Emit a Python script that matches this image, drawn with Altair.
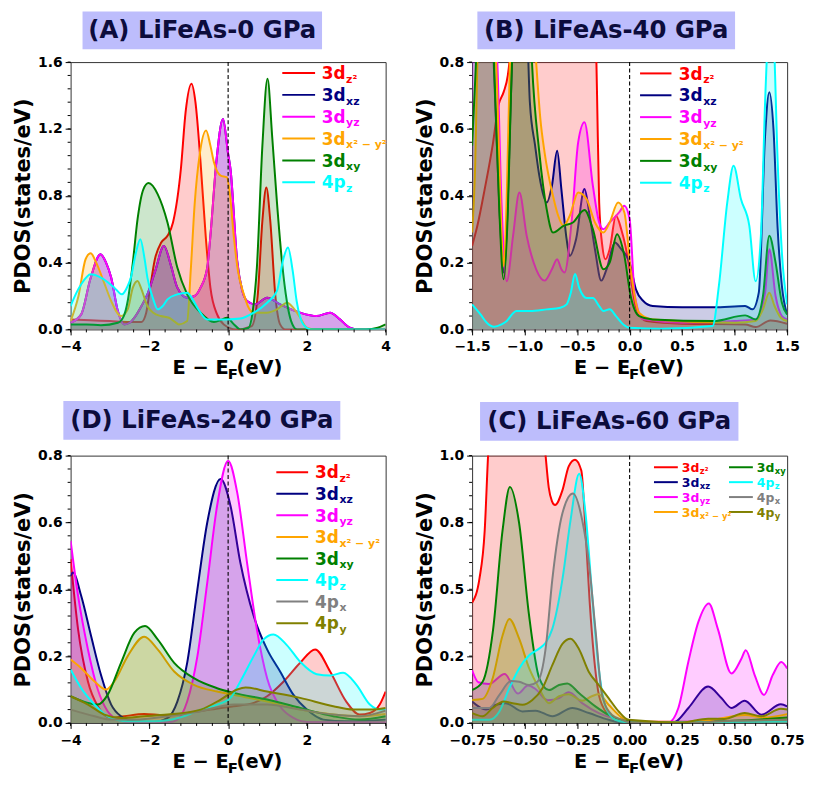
import altair as alt
import pandas as pd

# ---------------- data (E - E_F in eV, PDOS in states/eV) ----------------
# Panel A: LiFeAs-0 GPa
A_3dz2 = [(-4.0,0.06),(-3.5,0.055),(-3.0,0.05),(-2.5,0.045),(-2.2,0.045),(-2.08,0.1),(-1.98,0.25),(-1.86,0.42),(-1.7,0.52),(-1.54,0.56),(-1.4,0.64),(-1.2,0.96),(-1.08,1.3),(-0.93,1.47),(-0.83,1.36),(-0.7,1.0),(-0.57,0.56),(-0.45,0.25),(-0.28,0.09),(-0.11,0.03),(0.2,0.0),(0.6,0.02),(0.75,0.2),(0.87,0.65),(0.97,0.85),(1.07,0.65),(1.2,0.2),(1.32,0.03),(1.45,0.0),(4.0,0.0)]
A_3dyz = [(-4.0,0.04),(-3.73,0.09),(-3.5,0.3),(-3.24,0.45),(-3.1,0.4),(-2.97,0.31),(-2.8,0.11),(-2.64,0.03),(-2.5,0.04),(-2.38,0.07),(-2.2,0.14),(-2.05,0.21),(-1.85,0.35),(-1.63,0.5),(-1.45,0.38),(-1.29,0.25),(-1.04,0.19),(-0.85,0.2),(-0.7,0.25),(-0.53,0.37),(-0.45,0.56),(-0.3,1.0),(-0.13,1.26),(0.0,1.05),(0.06,0.96),(0.23,0.41),(0.35,0.24),(0.48,0.17),(0.69,0.15),(0.99,0.19),(1.32,0.15),(1.83,0.1),(2.25,0.08),(2.59,0.1),(2.84,0.06),(3.09,0.01),(3.3,0.0),(4.0,0.0)]
A_3dxz = list(A_3dyz)  # same as 3d_yz (hidden underneath)
A_3dx2y2 = [(-4.0,0.05),(-3.8,0.2),(-3.62,0.42),(-3.49,0.456),(-3.35,0.4),(-3.15,0.28),(-2.97,0.17),(-2.72,0.08),(-2.55,0.12),(-2.42,0.25),(-2.3,0.29),(-2.2,0.24),(-2.05,0.14),(-1.9,0.1),(-1.71,0.08),(-1.5,0.07),(-1.35,0.045),(-1.25,0.03),(-1.04,0.05),(-0.95,0.35),(-0.85,0.75),(-0.72,1.05),(-0.56,1.19),(-0.45,1.1),(-0.36,1.0),(-0.19,0.92),(-0.03,0.91),(0.05,0.8),(0.14,0.565),(0.25,0.35),(0.4,0.21),(0.5,0.14),(0.65,0.1),(0.98,0.1),(1.24,0.12),(1.5,0.16),(1.65,0.13),(1.83,0.07),(2.0,0.01),(2.2,0.0),(4.0,0.0)]
A_3dxy = [(-4.0,0.03),(-3.6,0.03),(-3.23,0.025),(-2.8,0.04),(-2.65,0.08),(-2.55,0.17),(-2.42,0.4),(-2.3,0.66),(-2.15,0.84),(-2.02,0.876),(-1.79,0.81),(-1.54,0.64),(-1.29,0.37),(-1.04,0.21),(-0.7,0.1),(-0.36,0.045),(-0.15,0.06),(-0.03,0.07),(0.15,0.03),(0.31,0.0),(0.52,0.01),(0.62,0.1),(0.73,0.37),(0.87,1.1),(1.0,1.5),(1.12,1.15),(1.24,0.76),(1.37,0.4),(1.49,0.17),(1.6,0.05),(1.75,0.0),(3.5,0.0),(3.8,0.01),(4.0,0.03)]
A_4pz = [(-4.0,0.14),(-3.85,0.22),(-3.73,0.27),(-3.49,0.33),(-3.23,0.31),(-2.89,0.25),(-2.7,0.21),(-2.55,0.26),(-2.47,0.31),(-2.35,0.45),(-2.23,0.54),(-2.12,0.42),(-2.05,0.31),(-1.9,0.18),(-1.79,0.12),(-1.66,0.14),(-1.54,0.18),(-1.29,0.21),(-1.04,0.22),(-0.9,0.18),(-0.78,0.13),(-0.53,0.06),(-0.03,0.06),(0.31,0.065),(0.65,0.1),(0.99,0.16),(1.24,0.23),(1.4,0.42),(1.52,0.49),(1.64,0.35),(1.74,0.17),(1.91,0.03),(2.1,0.0),(4.0,0.0)]

# Panel B: LiFeAs-40 GPa
B_3dz2 = [(-1.5,0.25),(-1.45,0.31),(-1.38,0.42),(-1.3,0.56),(-1.25,0.67),(-1.2,0.71),(-1.16,0.76),(-1.13,0.85),(-1.08,1.2),(-1.0,1.4),(-0.8,1.5),(-0.6,1.5),(-0.4,1.4),(-0.33,1.0),(-0.31,0.7),(-0.29,0.38),(-0.26,0.25),(-0.23,0.21),(-0.19,0.24),(-0.13,0.34),(-0.08,0.3),(-0.04,0.25),(0.0,0.18),(0.06,0.065),(0.16,0.025),(0.5,0.017),(1.1,0.015),(1.2,0.007),(1.34,0.027),(1.5,0.017)]
B_3dxz = [(-1.5,0.9),(-1.45,1.2),(-1.38,1.3),(-1.32,1.0),(-1.27,0.6),(-1.23,0.3),(-1.2,0.17),(-1.17,0.3),(-1.13,0.7),(-1.08,1.1),(-1.02,1.1),(-0.97,0.85),(-0.95,0.68),(-0.9,0.55),(-0.86,0.46),(-0.79,0.38),(-0.74,0.43),(-0.69,0.535),(-0.65,0.42),(-0.6,0.27),(-0.57,0.22),(-0.51,0.27),(-0.43,0.42),(-0.38,0.34),(-0.33,0.24),(-0.27,0.146),(-0.22,0.18),(-0.14,0.26),(-0.08,0.24),(-0.03,0.22),(0.0,0.2),(0.06,0.12),(0.13,0.085),(0.22,0.07),(0.5,0.066),(0.8,0.066),(1.1,0.07),(1.17,0.06),(1.23,0.11),(1.29,0.58),(1.33,0.71),(1.37,0.6),(1.41,0.3),(1.45,0.13),(1.5,0.045)]
B_3dyz = [(-1.5,1.3),(-1.45,1.5),(-1.38,1.2),(-1.3,0.95),(-1.26,0.8),(-1.22,0.38),(-1.17,0.144),(-1.11,0.28),(-1.05,0.41),(-0.98,0.28),(-0.89,0.18),(-0.81,0.146),(-0.74,0.18),(-0.69,0.21),(-0.65,0.18),(-0.62,0.17),(-0.55,0.33),(-0.49,0.56),(-0.43,0.62),(-0.35,0.43),(-0.29,0.32),(-0.25,0.3),(-0.19,0.32),(-0.1,0.35),(-0.05,0.37),(0.0,0.33),(0.05,0.1),(0.13,0.03),(0.5,0.02),(1.0,0.025),(1.2,0.03),(1.29,0.11),(1.33,0.24),(1.39,0.1),(1.45,0.04),(1.5,0.03)]
B_3dx2y2 = [(-1.5,0.29),(-1.47,0.5),(-1.45,0.8),(-1.42,1.1),(-1.35,1.2),(-1.3,1.0),(-1.26,0.7),(-1.23,0.38),(-1.2,0.19),(-1.17,0.4),(-1.14,0.8),(-1.1,1.1),(-1.0,1.2),(-0.93,1.0),(-0.89,0.8),(-0.85,0.63),(-0.81,0.53),(-0.73,0.4),(-0.68,0.34),(-0.63,0.31),(-0.57,0.34),(-0.49,0.41),(-0.41,0.39),(-0.33,0.32),(-0.25,0.29),(-0.19,0.32),(-0.11,0.38),(-0.05,0.35),(0.01,0.18),(0.09,0.05),(0.22,0.03),(1.0,0.02),(1.2,0.025),(1.27,0.06),(1.33,0.11),(1.38,0.07),(1.44,0.035),(1.5,0.025)]
B_3dxy = [(-1.5,0.55),(-1.47,0.75),(-1.45,0.9),(-1.4,1.2),(-1.33,1.1),(-1.28,0.7),(-1.24,0.35),(-1.2,0.15),(-1.16,0.35),(-1.13,0.7),(-1.08,1.1),(-1.0,1.3),(-0.95,0.95),(-0.93,0.8),(-0.86,0.53),(-0.79,0.36),(-0.73,0.29),(-0.63,0.31),(-0.54,0.32),(-0.43,0.357),(-0.35,0.3),(-0.25,0.18),(-0.19,0.2),(-0.12,0.285),(-0.05,0.22),(0.01,0.1),(0.09,0.04),(0.22,0.03),(0.8,0.025),(1.1,0.042),(1.2,0.03),(1.27,0.1),(1.33,0.28),(1.39,0.2),(1.45,0.08),(1.5,0.045)]
B_4pz = [(-1.5,0.075),(-1.42,0.045),(-1.36,0.02),(-1.29,0.008),(-1.22,0.015),(-1.17,0.025),(-1.12,0.045),(-1.08,0.055),(-0.95,0.055),(-0.79,0.06),(-0.66,0.065),(-0.6,0.075),(-0.56,0.11),(-0.52,0.166),(-0.48,0.124),(-0.44,0.1),(-0.41,0.094),(-0.35,0.094),(-0.29,0.07),(-0.25,0.055),(-0.19,0.06),(-0.13,0.04),(-0.06,0.015),(0.0,0.005),(0.3,0.002),(0.79,0.01),(0.85,0.13),(0.93,0.38),(0.99,0.49),(1.06,0.39),(1.14,0.31),(1.2,0.144),(1.25,0.28),(1.29,0.68),(1.32,0.9),(1.345,1.0),(1.37,0.9),(1.41,0.5),(1.45,0.23),(1.5,0.075)]

# Panel D: LiFeAs-240 GPa
D_3dz2 = [(-4.0,0.49),(-3.81,0.28),(-3.56,0.124),(-3.31,0.05),(-2.97,0.015),(-2.64,0.02),(-2.13,0.027),(-1.63,0.023),(-1.04,0.03),(-0.45,0.04),(0.14,0.05),(0.65,0.06),(0.99,0.08),(1.41,0.124),(1.83,0.18),(2.21,0.22),(2.59,0.154),(3.0,0.064),(3.34,0.025),(3.6,0.03),(3.85,0.055),(4.0,0.094)]
D_3dxz = [(-4.0,0.44),(-3.94,0.45),(-3.73,0.38),(-3.48,0.26),(-3.23,0.144),(-2.97,0.055),(-2.72,0.02),(-2.38,0.005),(-1.88,0.003),(-1.54,0.015),(-1.29,0.064),(-1.04,0.18),(-0.78,0.4),(-0.53,0.6),(-0.19,0.73),(0.06,0.65),(0.31,0.48),(0.65,0.32),(0.99,0.22),(1.32,0.154),(1.66,0.084),(2.0,0.04),(2.42,0.01),(3.0,0.005),(4.0,0.01)]
D_3dyz = [(-4.0,0.545),(-3.81,0.38),(-3.56,0.22),(-3.31,0.1),(-3.06,0.035),(-2.8,0.01),(-2.5,0.002),(-1.5,0.002),(-1.29,0.01),(-1.04,0.064),(-0.78,0.2),(-0.53,0.42),(-0.28,0.65),(0.0,0.785),(0.23,0.69),(0.48,0.48),(0.73,0.28),(0.99,0.134),(1.32,0.05),(1.66,0.015),(2.0,0.003),(4.0,0.002)]
D_3dx2y2 = [(-4.0,0.19),(-3.73,0.164),(-3.39,0.124),(-3.1,0.1),(-2.89,0.124),(-2.55,0.2),(-2.13,0.258),(-1.79,0.22),(-1.37,0.154),(-0.87,0.114),(-0.28,0.094),(0.14,0.084),(0.99,0.064),(1.83,0.04),(2.67,0.025),(3.34,0.02),(4.0,0.027)]
D_3dxy = [(-4.0,0.08),(-3.56,0.06),(-3.31,0.055),(-3.06,0.084),(-2.72,0.18),(-2.38,0.27),(-2.11,0.29),(-1.79,0.25),(-1.37,0.18),(-0.87,0.134),(-0.28,0.104),(0.14,0.09),(0.99,0.07),(1.83,0.045),(2.67,0.02),(3.34,0.01),(4.0,0.02)]
D_4pz = [(-4.0,0.16),(-3.73,0.104),(-3.39,0.055),(-3.06,0.02),(-2.55,0.005),(-1.88,0.005),(-1.2,0.017),(-0.7,0.04),(-0.28,0.055),(0.06,0.075),(0.31,0.124),(0.65,0.2),(0.9,0.25),(1.15,0.265),(1.49,0.233),(1.83,0.183),(2.25,0.146),(2.59,0.142),(2.92,0.15),(3.26,0.114),(3.6,0.055),(3.85,0.04),(4.0,0.04)]
D_4px = [(-4.0,0.04),(-3.39,0.02),(-2.97,0.01),(-2.38,0.01),(-1.54,0.02),(-0.7,0.035),(0.14,0.055),(0.99,0.055),(1.83,0.04),(2.67,0.025),(3.34,0.02),(4.0,0.037)]
D_4py = [(-4.0,0.08),(-3.56,0.055),(-3.14,0.025),(-2.72,0.015),(-2.13,0.02),(-1.54,0.025),(-0.7,0.04),(-0.19,0.07),(0.23,0.1),(0.44,0.106),(0.99,0.094),(1.83,0.075),(2.67,0.05),(3.18,0.04),(3.6,0.04),(4.0,0.045)]

# Panel C: LiFeAs-60 GPa
C_3dz2 = [(-0.75,0.45),(-0.715,0.54),(-0.69,0.72),(-0.674,1.0),(-0.65,1.3),(-0.6,1.5),(-0.5,1.5),(-0.43,1.3),(-0.4,1.0),(-0.385,0.88),(-0.37,0.83),(-0.355,0.815),(-0.32,0.87),(-0.29,0.96),(-0.26,0.985),(-0.23,0.944),(-0.21,0.72),(-0.19,0.45),(-0.17,0.25),(-0.15,0.12),(-0.12,0.05),(-0.08,0.02),(-0.04,0.01),(0.0,0.005),(0.75,0.005)]
C_3dxz = [(-0.75,0.08),(-0.684,0.05),(-0.636,0.068),(-0.59,0.074),(-0.51,0.043),(-0.447,0.046),(-0.368,0.025),(-0.273,0.056),(-0.194,0.037),(-0.1,0.012),(-0.03,0.0),(0.2,0.0),(0.22,0.005),(0.28,0.056),(0.374,0.136),(0.437,0.093),(0.485,0.056),(0.548,0.083),(0.627,0.031),(0.72,0.07),(0.75,0.062)]
C_3dyz = [(-0.75,0.197),(-0.72,0.152),(-0.67,0.146),(-0.595,0.183),(-0.532,0.11),(-0.484,0.14),(-0.45,0.128),(-0.39,0.085),(-0.336,0.093),(-0.29,0.115),(-0.226,0.074),(-0.147,0.037),(-0.068,0.016),(0.0,0.002),(0.185,0.002),(0.232,0.056),(0.28,0.23),(0.327,0.377),(0.377,0.447),(0.42,0.352),(0.485,0.185),(0.532,0.24),(0.553,0.272),(0.595,0.18),(0.64,0.105),(0.682,0.18),(0.722,0.228),(0.75,0.204)]
C_3dx2y2 = [(-0.75,0.086),(-0.7,0.09),(-0.652,0.167),(-0.605,0.327),(-0.573,0.389),(-0.526,0.315),(-0.478,0.204),(-0.431,0.13),(-0.384,0.074),(-0.336,0.1),(-0.29,0.107),(-0.226,0.083),(-0.18,0.1),(-0.147,0.107),(-0.1,0.068),(-0.036,0.019),(0.0,0.005),(0.28,0.002),(0.38,0.01),(0.55,0.03),(0.64,0.02),(0.75,0.033)]
C_3dxy = [(-0.75,0.123),(-0.7,0.154),(-0.65,0.35),(-0.605,0.72),(-0.57,0.883),(-0.526,0.747),(-0.48,0.41),(-0.43,0.167),(-0.384,0.123),(-0.336,0.142),(-0.297,0.148),(-0.24,0.111),(-0.163,0.062),(-0.1,0.03),(-0.005,0.006),(0.2,0.0),(0.4,0.005),(0.6,0.012),(0.75,0.02)]
C_4pz = [(-0.75,0.012),(-0.668,0.012),(-0.62,0.043),(-0.573,0.13),(-0.526,0.204),(-0.478,0.253),(-0.431,0.278),(-0.4,0.3),(-0.368,0.352),(-0.32,0.537),(-0.281,0.76),(-0.24,0.932),(-0.21,0.784),(-0.178,0.475),(-0.147,0.204),(-0.115,0.062),(-0.068,0.012),(0.0,0.002),(0.75,0.005)]
C_4px = [(-0.75,0.056),(-0.668,0.056),(-0.62,0.105),(-0.565,0.157),(-0.526,0.154),(-0.478,0.142),(-0.439,0.154),(-0.4,0.278),(-0.368,0.537),(-0.32,0.784),(-0.27,0.858),(-0.226,0.76),(-0.194,0.6),(-0.163,0.352),(-0.131,0.105),(-0.084,0.03),(-0.036,0.012),(0.0,0.003),(0.3,0.002),(0.5,0.008),(0.75,0.012)]
C_4py = [(-0.75,0.037),(-0.7,0.025),(-0.652,0.056),(-0.6,0.08),(-0.557,0.074),(-0.51,0.068),(-0.463,0.086),(-0.415,0.13),(-0.368,0.216),(-0.32,0.296),(-0.281,0.315),(-0.242,0.278),(-0.194,0.191),(-0.147,0.142),(-0.1,0.093),(-0.052,0.043),(-0.005,0.012),(0.25,0.002),(0.374,0.016),(0.45,0.015),(0.548,0.037),(0.627,0.025),(0.72,0.053),(0.75,0.05)]

# axes / labels
TITLES = ["(A) LiFeAs-0 GPa", "(B) LiFeAs-40 GPa", "(D) LiFeAs-240 GPa", "(C) LiFeAs-60 GPa"]
ORB6 = ["3dz2", "3dxz", "3dyz", "3dx2y2", "3dxy", "4pz"]
ORB8 = ORB6 + ["4px", "4py"]
LAB_MAIN = {"3dz2": "3d", "3dxz": "3d", "3dyz": "3d", "3dx2y2": "3d", "3dxy": "3d", "4pz": "4p", "4px": "4p", "4py": "4p"}
LAB_SUB = {"3dz2": "z²", "3dxz": "xz", "3dyz": "yz", "3dx2y2": "x² − y²", "3dxy": "xy", "4pz": "z", "4px": "x", "4py": "y"}
X_TICKS_WIDE = [-4, -2, 0, 2, 4]
X_TICKS_B = [-1.5, -1.0, -0.5, 0.0, 0.5, 1.0, 1.5]
X_TICKS_C = [-0.75, -0.5, -0.25, 0.0, 0.25, 0.5, 0.75]
Y_TICKS_A = [0.0, 0.4, 0.8, 1.2, 1.6]
Y_TICKS_BD = [0.0, 0.2, 0.4, 0.6, 0.8]
Y_TICKS_C = [0.0, 0.25, 0.5, 0.75, 1.0]

# ---------------- styles ----------------
COLORS = {"3dz2": "#ff0000", "3dxz": "#000080", "3dyz": "#ff00ff", "3dx2y2": "#ffa500",
          "3dxy": "#008000", "4pz": "#00ffff", "4px": "#808080", "4py": "#808000"}
FONT = "DejaVu Sans"
W, H = 317, 269


def minor_vals(lo, hi, step):
    n = int(round((hi - lo) / step))
    return [round(lo + k * step, 6) for k in range(n + 1)]


def build_panel(series, order, xdom, xticks, xfmt, ydom, yticks, ylabexpr, title, box, leg):
    xs = alt.Scale(domain=xdom, nice=False, zero=False)
    ys = alt.Scale(domain=ydom, nice=False, zero=False)
    xax = alt.Axis(values=xticks, format=xfmt, title=None, grid=False, domain=False,
                   tickSize=5.5, tickColor="black", tickWidth=1, labelFont=FONT,
                   labelFontSize=14, labelFontWeight="bold", labelColor="black",
                   labelPadding=5, labelFlush=False, labelOverlap=False)
    yax = alt.Axis(values=yticks, labelExpr=ylabexpr, title="PDOS(states/eV)", grid=False,
                   domain=False, tickSize=5.5, tickColor="black", tickWidth=1, labelFont=FONT,
                   labelFontSize=14, labelFontWeight="bold", labelColor="black",
                   labelPadding=3, labelFlush=False, labelOverlap=False,
                   titleFont=FONT, titleFontSize=21, titleFontWeight="bold",
                   titleColor="black", titlePadding=4)
    X = alt.X("E:Q", scale=xs, axis=xax)
    Y = alt.Y("P:Q", scale=ys, axis=yax)
    layers = []
    for key in order:
        df = pd.DataFrame(series[key], columns=["E", "P"])
        base = alt.Chart(df)
        layers.append(base.mark_area(color=COLORS[key], fillOpacity=0.2, strokeWidth=0,
                                     interpolate="monotone", clip=True).encode(x=X, y=Y))
        layers.append(base.mark_line(color=COLORS[key], strokeWidth=2,
                                     interpolate="monotone", clip=True).encode(x=X, y=Y))
    # Fermi level
    layers.append(alt.Chart(pd.DataFrame({"E": [0.0]})).mark_rule(
        color="black", strokeDash=[4, 2.5], strokeWidth=1.1).encode(x=X))
    # minor ticks
    xm = pd.DataFrame({"E": minor_vals(xdom[0], xdom[1], (xticks[1] - xticks[0]) / 5)})
    layers.append(alt.Chart(xm).mark_rule(color="black", strokeWidth=1).encode(
        x=X, y=alt.value(H), y2=alt.value(H + 3)))
    ym = pd.DataFrame({"P": minor_vals(ydom[0], ydom[1], (yticks[1] - yticks[0]) / 5)})
    layers.append(alt.Chart(ym).mark_rule(color="black", strokeWidth=1).encode(
        y=Y, x=alt.value(0), x2=alt.value(-3)))

    # legend
    ldf = pd.DataFrame({"i": list(range(len(order))),
                        "main": [LAB_MAIN[k] for k in order],
                        "sub": [LAB_SUB[k] for k in order],
                        "col": [COLORS[k] for k in order]})
    fs, sfs = leg["fs"], leg["sfs"]
    lbase = (alt.Chart(ldf)
             .transform_calculate(r=f"datum.i % {leg['nrows']}")
             .transform_calculate(c=f"floor(datum.i / {leg['nrows']})")
             .transform_calculate(ly=f"{leg['y0']} + datum.r * {leg['dy']}")
             .transform_calculate(lx0=f"{leg['x0']} + datum.c * {leg['colw']}")
             .transform_calculate(lx1=f"{leg['x1']} + datum.c * {leg['colw']}")
             .transform_calculate(tx=f"{leg['tx']} + datum.c * {leg['colw']}")
             .transform_calculate(tb=f"datum.ly + {0.365 * fs}")
             .transform_calculate(sx=f"datum.tx + {1.412 * fs + 0.5}")
             .transform_calculate(sb=f"datum.tb + {leg['sdy']}"))
    colenc = alt.Color("col:N", scale=None, legend=None)
    layers.append(lbase.mark_rule(strokeWidth=2).encode(
        x=alt.X("lx0:Q", scale=None, axis=None), x2="lx1:Q",
        y=alt.Y("ly:Q", scale=None, axis=None), color=colenc))
    layers.append(lbase.mark_text(font=FONT, fontSize=fs, fontWeight="bold", align="left",
                                  baseline="alphabetic").encode(
        x=alt.X("tx:Q", scale=None, axis=None), y=alt.Y("tb:Q", scale=None, axis=None),
        text="main:N", color=colenc))
    layers.append(lbase.mark_text(font=FONT, fontSize=sfs, fontWeight="bold", align="left",
                                  baseline="alphabetic").encode(
        x=alt.X("sx:Q", scale=None, axis=None), y=alt.Y("sb:Q", scale=None, axis=None),
        text="sub:N", color=colenc))

    # panel title in a lavender box
    tdf = pd.DataFrame({"t": [title]})
    layers.append(alt.Chart(tdf).mark_rect(color="#bdbdfc").encode(
        x=alt.value(box[0]), x2=alt.value(box[1]), y=alt.value(box[2]), y2=alt.value(box[3])))
    layers.append(alt.Chart(tdf).mark_text(font=FONT, fontSize=24.5, fontWeight="bold",
                                           color="#0c0c3c", align="center",
                                           baseline="middle").encode(
        text="t:N", x=alt.value((box[0] + box[1]) / 2), y=alt.value((box[2] + box[3]) / 2 + 1)))

    # x-axis title  E − E_F(eV)
    x0 = 102.5
    layers.append(alt.Chart(tdf).mark_text(text="E − E", font=FONT, fontSize=19.5,
                                           fontWeight="bold", color="black", align="left",
                                           baseline="alphabetic").encode(
        x=alt.value(x0), y=alt.value(H + 45)))
    layers.append(alt.Chart(tdf).mark_text(text="F", font=FONT, fontSize=15,
                                           fontWeight="bold", color="black", align="left",
                                           baseline="alphabetic").encode(
        x=alt.value(x0 + 55.5), y=alt.value(H + 50)))
    layers.append(alt.Chart(tdf).mark_text(text="(eV)", font=FONT, fontSize=19.5,
                                           fontWeight="bold", color="black", align="left",
                                           baseline="alphabetic").encode(
        x=alt.value(x0 + 64.5), y=alt.value(H + 45)))

    return alt.layer(*layers).properties(width=W, height=H)


BIG = dict(fs=17, sfs=11, sdy=3.5, nrows=8, colw=0)

pA = build_panel({"3dz2": A_3dz2, "3dxz": A_3dxz, "3dyz": A_3dyz, "3dx2y2": A_3dx2y2,
                  "3dxy": A_3dxy, "4pz": A_4pz}, ORB6,
                 [-4, 4], X_TICKS_WIDE, "d", [0, 1.6], Y_TICKS_A,
                 "format(datum.value, '.1f')", TITLES[0], (12, 253, -51, -13),
                 dict(BIG, x0=213, x1=246, tx=252.7, y0=11, dy=22))
pB = build_panel({"3dz2": B_3dz2, "3dxz": B_3dxz, "3dyz": B_3dyz, "3dx2y2": B_3dx2y2,
                  "3dxy": B_3dxy, "4pz": B_4pz}, ORB6,
                 [-1.5, 1.5], X_TICKS_B, ".1f", [0, 0.8], Y_TICKS_BD,
                 "format(datum.value, '.1f')", TITLES[1], (5.3, 264.6, -51, -13),
                 dict(BIG, x0=169, x1=200.6, tx=208, y0=11.4, dy=22))
pD = build_panel({"3dz2": D_3dz2, "3dxz": D_3dxz, "3dyz": D_3dyz, "3dx2y2": D_3dx2y2,
                  "3dxy": D_3dxy, "4pz": D_4pz, "4px": D_4px, "4py": D_4py}, ORB8,
                 [-4, 4], X_TICKS_WIDE, "d", [0, 0.8], Y_TICKS_BD,
                 "format(datum.value, '.1f')", TITLES[2], (-7.3, 271.4, -55, -16),
                 dict(BIG, x0=207, x1=239, tx=246, y0=16.7, dy=21.7))
pC = build_panel({"3dz2": C_3dz2, "3dxz": C_3dxz, "3dyz": C_3dyz, "3dx2y2": C_3dx2y2,
                  "3dxy": C_3dxy, "4pz": C_4pz, "4px": C_4px, "4py": C_4py}, ORB8,
                 [-0.75, 0.75], X_TICKS_C, ".2f", [0, 1.0], Y_TICKS_C,
                 "datum.value == 0.25 ? '0.2' : (datum.value == 0.75 ? '0.8' : format(datum.value, '.1f'))",
                 TITLES[3], (8, 268, -54, -15),
                 dict(fs=12.5, sfs=8.5, sdy=2.5, nrows=4, colw=75.5,
                      x0=183, x1=207, tx=211, y0=11.7, dy=15))

top = alt.hconcat(pA, pB, spacing=22)
bottom = alt.hconcat(pD, pC, spacing=22)
chart = (alt.vconcat(top, bottom, spacing=17)
         .properties(padding={"left": 4, "top": 0, "right": 4, "bottom": 4})
         .configure(font=FONT)
         .configure_view(stroke="#333333", strokeWidth=1))

chart.save("out.html", embed_options={"renderer": "svg", "actions": False})
